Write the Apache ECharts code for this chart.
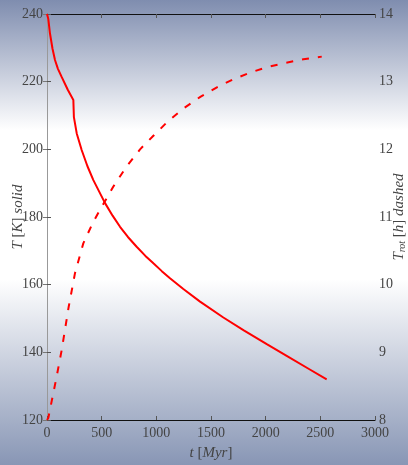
<!DOCTYPE html>
<html>
<head>
<meta charset="utf-8">
<script src="https://cdn.jsdelivr.net/npm/echarts@6/dist/echarts.min.js"></script>
<style>html,body{margin:0;padding:0;}#c{width:408px;height:465px;}</style>
</head>
<body>
<div id="c"></div>
<script>
// Time in Myr for the solid temperature curve
var tSolid = [0, 12, 27, 50, 73, 100, 134, 190, 241, 246, 272, 317, 370, 424, 531, 600, 668, 740, 820, 900, 973, 1050, 1125, 1247, 1400, 1613, 1800, 2010, 2200, 2400, 2558];
// Temperature T [K] (left axis)
var TSolid = [240, 238.5, 234.3, 229.8, 226.4, 223.8, 221.4, 217.6, 214.6, 209.5, 204.7, 199.8, 195.0, 190.9, 184.1, 180.4, 177.1, 174.1, 171.2, 168.5, 166.3, 164.0, 161.9, 158.7, 155.0, 150.3, 146.5, 142.4, 138.8, 135.0, 132.0];
// Time in Myr for the dashed rotation-period curve
var tDashed = [0, 12, 88, 134, 198, 256, 332, 424, 500, 607, 729, 851, 973, 1110, 1253, 1406, 1558, 1711, 1869, 2025, 2186, 2345, 2513];
// Rotation period T_rot [h] (right axis)
var vDashed = [8, 8.03, 8.64, 9.03, 9.67, 10.17, 10.61, 10.93, 11.15, 11.45, 11.75, 12.0, 12.2, 12.42, 12.61, 12.78, 12.92, 13.04, 13.14, 13.22, 13.28, 13.33, 13.37];
var xTicks = [0, 500, 1000, 1500, 2000, 2500, 3000];
var leftTicks = [120, 140, 160, 180, 200, 220, 240];
var rightTicks = [8, 9, 10, 11, 12, 13, 14];

function pairs(xs, ys) { return xs.map(function (x, i) { return [x, ys[i]]; }); }
function plain(v) { return String(v); }

var serif = 'Liberation Serif';
var chart = echarts.init(document.getElementById('c'));
chart.setOption({
  animation: false,
  backgroundColor: {
    type: 'linear', x: 0, y: 0, x2: 0, y2: 1,
    colorStops: [
      {offset: 0, color: '#7f8daf'},
      {offset: 0.28, color: '#ffffff'},
      {offset: 0.6, color: '#ffffff'},
      {offset: 1, color: '#8896b5'}
    ]
  },
  grid: {left: 47, right: 33, top: 14, bottom: 45, containLabel: false, outerBoundsMode: 'none'},
  xAxis: [{
    type: 'value', min: 0, max: 3000, interval: 500, position: 'bottom',
    axisLine: {lineStyle: {color: '#111', width: 1.2}},
    axisTick: {inside: true, length: 4, lineStyle: {color: '#555'}},
    splitLine: {show: false},
    axisLabel: {color: '#444', fontFamily: serif, fontSize: 14, margin: 6, formatter: plain},
    name: '{i|t} [{i|Myr}]', nameLocation: 'middle', nameGap: 26, nameMoveOverlap: false,
    nameTextStyle: {color: '#444', fontFamily: serif, fontSize: 15,
      rich: {i: {fontStyle: 'italic', fontFamily: serif, fontSize: 15, color: '#444'}}}
  }, {
    type: 'value', min: 0, max: 3000, interval: 500, position: 'top',
    axisLine: {show: true, lineStyle: {color: '#111', width: 1.2}},
    axisTick: {show: true, inside: true, length: 4, lineStyle: {color: '#555'}},
    axisLabel: {show: false}, splitLine: {show: false}
  }],
  yAxis: [{
    type: 'value', min: 120, max: 240, interval: 20, position: 'left',
    axisLine: {show: true, lineStyle: {color: '#555'}},
    axisTick: {show: true, inside: true, length: 4, lineStyle: {color: '#555'}},
    splitLine: {show: false},
    axisLabel: {color: '#444', fontFamily: serif, fontSize: 14, margin: 4, formatter: plain},
    name: '{i|T} [{i|K}] {i|solid}', nameLocation: 'middle', nameGap: 21, nameMoveOverlap: false,
    nameTextStyle: {color: '#444', fontFamily: serif, fontSize: 15,
      rich: {i: {fontStyle: 'italic', fontFamily: serif, fontSize: 15, color: '#444'}}}
  }, {
    type: 'value', min: 8, max: 14, interval: 1, position: 'right',
    axisLine: {show: true, lineStyle: {color: '#999'}},
    axisTick: {show: true, inside: true, length: 4, lineStyle: {color: '#777'}},
    splitLine: {show: false},
    axisLabel: {color: '#444', fontFamily: serif, fontSize: 14, margin: 4, formatter: plain},
    name: '{i|T}{s|rot} [{i|h}] {i|dashed}', nameLocation: 'middle', nameGap: 16, nameRotate: 90, nameMoveOverlap: false,
    nameTextStyle: {color: '#444', fontFamily: serif, fontSize: 15,
      rich: {
        i: {fontStyle: 'italic', fontFamily: serif, fontSize: 15, color: '#444'},
        s: {fontStyle: 'italic', fontFamily: serif, fontSize: 10, color: '#444', verticalAlign: 'bottom', padding: [6, 0, 0, 0]}
      }}
  }],
  series: [{
    type: 'line', xAxisIndex: 0, yAxisIndex: 0, data: pairs(tSolid, TSolid),
    showSymbol: false, lineStyle: {color: '#ff0000', width: 2}, z: 3
  }, {
    type: 'line', xAxisIndex: 0, yAxisIndex: 1, data: pairs(tDashed, vDashed),
    showSymbol: false, lineStyle: {color: '#ff0000', width: 2, type: [7, 9]}, z: 3
  }]
});
</script>
</body>
</html>
